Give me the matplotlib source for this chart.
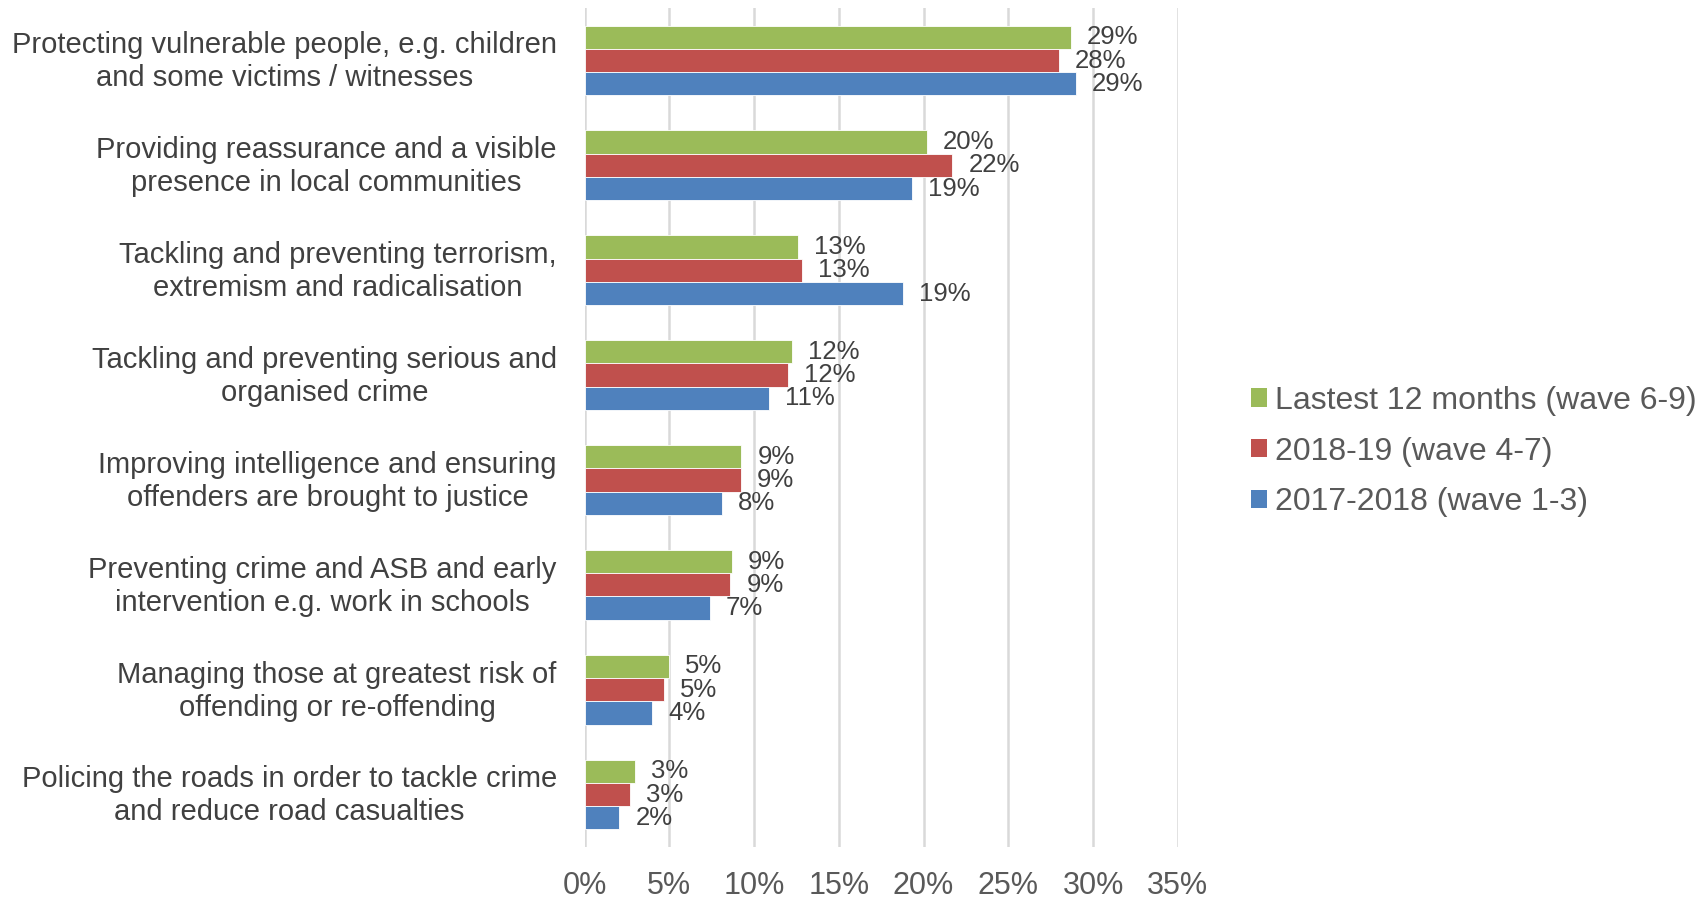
import matplotlib.pyplot as plt
import matplotlib.transforms as mtransforms
import numpy as np
from matplotlib.patches import Patch

plt.rcParams["font.family"] = ["Liberation Sans", "DejaVu Sans"]

categories = [
    "Protecting vulnerable people, e.g. children\nand some victims / witnesses",
    "Providing reassurance and a visible\npresence in local communities",
    "Tackling and preventing terrorism,\nextremism and radicalisation",
    "Tackling and preventing serious and\norganised crime",
    "Improving intelligence and ensuring\noffenders are brought to justice",
    "Preventing crime and ASB and early\nintervention e.g. work in schools",
    "Managing those at greatest risk of\noffending or re-offending",
    "Policing the roads in order to tackle crime\nand reduce road casualties",
]

latest = [28.7, 20.2, 12.6, 12.25, 9.25, 8.7, 5.0, 2.95]
y1819 = [28.0, 21.7, 12.8, 12.0, 9.2, 8.6, 4.7, 2.65]
y1718 = [29.0, 19.3, 18.8, 10.9, 8.1, 7.4, 4.0, 2.05]

series_names = ["Lastest 12 months (wave 6-9)", "2018-19 (wave 4-7)", "2017-2018 (wave 1-3)"]
colors = ["#9BBB59", "#C0504D", "#4F81BD"]

fig = plt.figure(figsize=(17.07, 8.98), dpi=100)
ax = fig.add_axes([0.3425, 0.0568, 0.3475, 0.9342])

y = np.arange(len(categories))
h = 0.222
for i, (vals, col) in enumerate(zip([latest, y1819, y1718], colors)):
    pos = y + (i - 1) * h
    ax.barh(pos, vals, height=h, color=col, edgecolor="white", linewidth=0.6, zorder=3)
    for p, v in zip(pos, vals):
        ax.annotate(f"{v:.0f}%", xy=(v, p), xytext=(11.5, 0), textcoords="offset points",
                    ha="left", va="center", fontsize=18.5, color="#404040", zorder=4)

ax.set_xlim(0, 35)
ax.set_ylim(len(categories) - 0.5, -0.5)
ax.set_xticks(np.arange(0, 36, 5))
ax.set_xticklabels([f"{t}%" for t in range(0, 36, 5)])
ax.set_yticks(y)
ax.set_yticklabels(categories, linespacing=1.23)
ax.tick_params(axis="y", length=0, pad=20, labelsize=21, labelcolor="#404040")
ax.tick_params(axis="x", length=0, pad=17.5, labelsize=22, labelcolor="#595959")
ax.grid(axis="x", color="#D9D9D9", linewidth=1.8, zorder=0)
for s in ax.spines.values():
    s.set_visible(False)

# nudge the two-line category labels up a little, lines centred
shift = mtransforms.ScaledTranslation(0, 3 / 72, fig.dpi_scale_trans)
for lab in ax.get_yticklabels():
    lab.set_multialignment("center")
    lab.set_transform(lab.get_transform() + shift)

handles = [Patch(facecolor=c, edgecolor="none") for c in colors]
fig.legend(handles, series_names, loc="center left", bbox_to_anchor=(0.733, 0.497),
           frameon=False, fontsize=23, labelcolor="#595959", handlelength=0.5,
           handleheight=0.5, handletextpad=0.25, labelspacing=0.65, borderpad=0,
           borderaxespad=0)

fig.savefig("out.png", dpi=100)
